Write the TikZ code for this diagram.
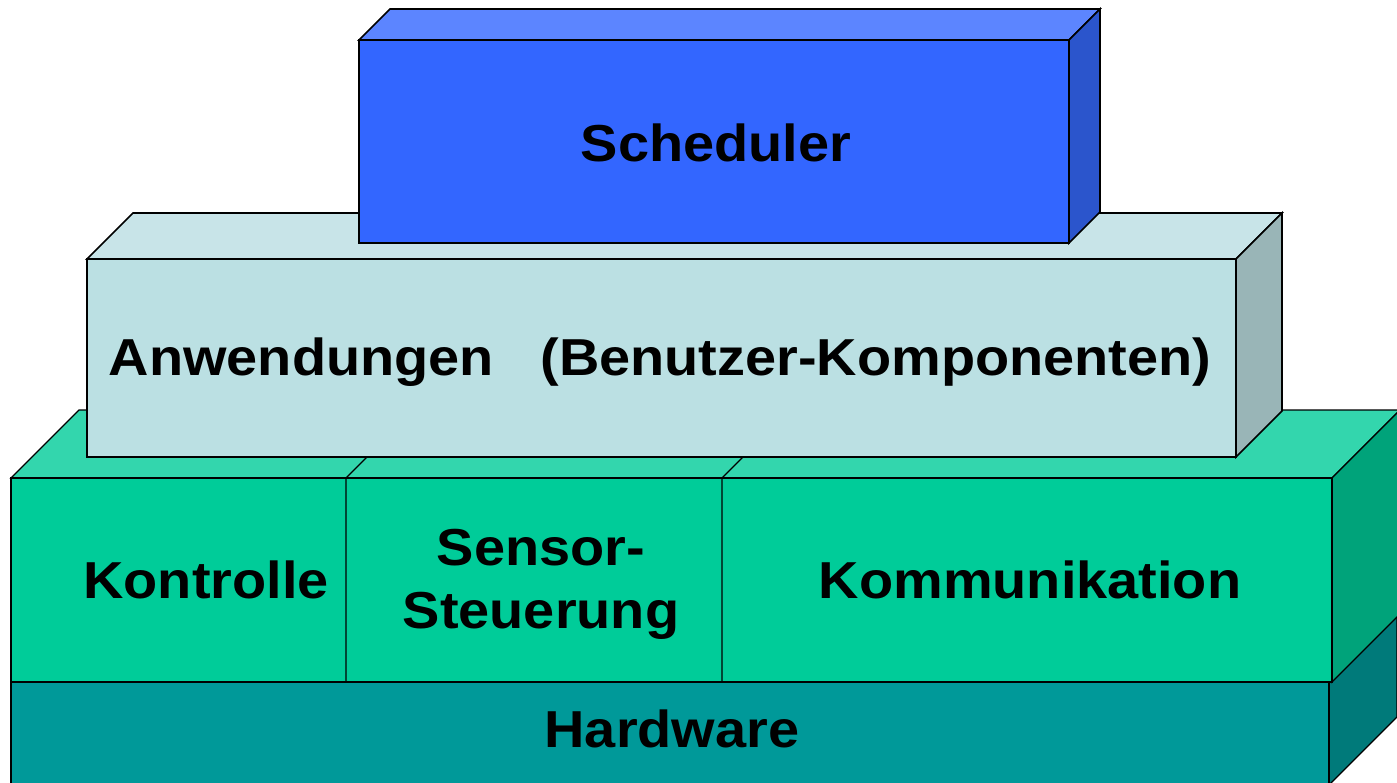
\documentclass[tikz,border=0pt]{standalone}
\usepackage{fontspec}
\setmainfont[FakeStretch=1.075]{Liberation Sans}
\definecolor{schF}{HTML}{3366FF}
\definecolor{schT}{HTML}{5C85FF}
\definecolor{schS}{HTML}{2B55CC}
\definecolor{anwF}{HTML}{BBE0E3}
\definecolor{anwT}{HTML}{C8E4E8}
\definecolor{anwS}{HTML}{99B5B7}
\definecolor{grnF}{HTML}{00CC99}
\definecolor{grnT}{HTML}{33D6AD}
\definecolor{grnS}{HTML}{00A37A}
\definecolor{hwF}{HTML}{009999}
\definecolor{hwS}{HTML}{007A7A}
\begin{document}
\begin{tikzpicture}[x=1pt,y=-1pt,
  face/.style={draw=black,line width=1.6pt,line join=miter},
  thinface/.style={draw=black,line width=1.3pt,line join=miter},
  lbl/.style={font=\bfseries\fontsize{52}{63}\selectfont,inner sep=0pt,anchor=base,align=center}]
\useasboundingbox (0,0) rectangle (1397,783);
% Hardware
\path[thinface,fill=hwS] (1329,682) -- (1397,614) -- (1397,717) -- (1329,785) -- cycle;
\path[thinface,fill=hwF] (11,682) rectangle (1329,785);
% Green layer
\path[thinface,fill=grnT] (11,478) -- (79,410) -- (1400,410) -- (1332,478) -- cycle;
\path[thinface,fill=grnS] (1332,478) -- (1400,410) -- (1400,614) -- (1332,682) -- cycle;
\path[thinface,fill=grnF] (11,478) rectangle (1332,682);
\draw[line width=1.3pt] (346,478) -- (346,682) (346,478) -- (414,410);
\draw[line width=1.3pt] (722,478) -- (722,682) (722,478) -- (790,410);
% Anwendungen
\path[face,fill=anwT] (87,259) -- (133,213) -- (1282,213) -- (1236,259) -- cycle;
\path[face,fill=anwS] (1236,259) -- (1282,213) -- (1282,411) -- (1236,457) -- cycle;
\path[face,fill=anwF] (87,259) rectangle (1236,457);
% Scheduler
\path[face,fill=schT] (359,40) -- (390,9) -- (1100,9) -- (1069,40) -- cycle;
\path[face,fill=schS] (1069,40) -- (1100,9) -- (1100,212) -- (1069,243) -- cycle;
\path[face,fill=schF] (359,40) rectangle (1069,243);
% Labels
\node[lbl] (sched) at (716,162) {Scheduler};
\node[lbl] (anw) at (660,375) {Anwendungen\ \ \ (Benutzer-Komponenten)};
\node[lbl] (kon) at (206,598) {Kontrolle};
\node[lbl] (sens) at (541,628) {Sensor-\\Steuerung};
\node[lbl] (kom) at (1030,598) {Kommunikation};
\node[lbl] (hw) at (672,747) {Hardware};
\end{tikzpicture}
\end{document}
